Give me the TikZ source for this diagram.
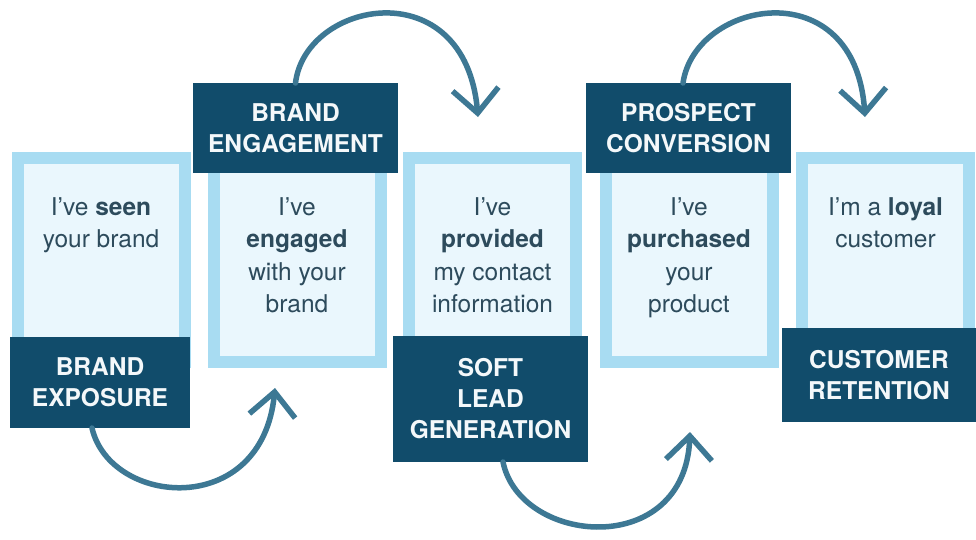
\documentclass[tikz,border=0pt]{standalone}
\usepackage{fontspec}
\setmainfont{TeX Gyre Heros}
\usetikzlibrary{arrows.meta}
\definecolor{navy}{HTML}{114C6B}
\definecolor{swoosh}{HTML}{3D7894}
\definecolor{rim}{HTML}{A8DCF2}
\definecolor{paper}{HTML}{EAF7FD}
\definecolor{ink}{HTML}{2D4B5C}
\definecolor{chalk}{HTML}{F4F8FA}

\begin{document}
\begin{tikzpicture}[x=1pt, y=-1pt,
  card/.style={draw=rim, line width=12pt, fill=paper, inner sep=0pt,
               outer sep=6pt, minimum width=167pt, minimum height=204pt},
  say/.style={anchor=north, inner sep=0pt, align=center, text=ink,
              font=\fontsize{24.5}{32.5}\selectfont},
  stage/.style={fill=navy, text=chalk, inner sep=0pt, outer sep=0pt,
                align=center, font=\fontsize{24.5}{31}\selectfont\bfseries},
  swoop/.style={draw=swoosh, line width=5.5pt, line cap=round,
                -{Straight Barb[length=24pt, width=46pt]}}
]
  \fill[white] (0,0) rectangle (976,539);
  \useasboundingbox (0,0) rectangle (976,539);

  % cards
  \node[card] (seen)      at (101,260)   {};
  \node[card] (engaged)   at (297,260)   {};
  \node[card] (provided)  at (492.5,260) {};
  \node[card] (purchased) at (689,260)   {};
  \node[card] (loyal)     at (885.5,260) {};

  \node[say] (seentxt)      at (101,197)   {I’ve \textbf{seen}\\your brand};
  \node[say] (engagedtxt)   at (297,197)   {I’ve\\\textbf{engaged}\\with your\\brand};
  \node[say] (providedtxt)  at (492.5,197) {I’ve\\\textbf{provided}\\my contact\\information};
  \node[say] (purchasedtxt) at (689,197)   {I’ve\\\textbf{purchased}\\your\\product};
  \node[say] (loyaltxt)     at (885.5,197) {I’m a \textbf{loyal}\\customer};

  % stage labels
  \node[stage, minimum width=180pt, minimum height=91pt]  (exposure)   at (100,382.5) {BRAND\\EXPOSURE};
  \node[stage, minimum width=205pt, minimum height=90pt]  (engagement) at (295.5,128) {BRAND\\ENGAGEMENT};
  \node[stage, minimum width=195pt, minimum height=126pt] (softlead)   at (490.5,399) {SOFT\\LEAD\\GENERATION};
  \node[stage, minimum width=205pt, minimum height=90pt]  (conversion) at (688.5,128) {PROSPECT\\CONVERSION};
  \node[stage, minimum width=194pt, minimum height=94pt]  (retention)  at (879,375)   {CUSTOMER\\RETENTION};

  % swoops between stages
  \draw[swoop] ([shift={(-8,0)}]exposure.south)
    .. controls +(18,78) and +(-13,132) .. ([shift={(-22,20)}]engaged.south);
  \draw[swoop] (engagement.north)
    .. controls +(10,-83) and +(-13,-147) .. ([shift={(-14.5,-35)}]provided.north);
  \draw[swoop] ([shift={(12.5,0)}]softlead.south)
    .. controls +(17,83) and +(-5,128) .. ([shift={(1,64)}]purchased.south);
  \draw[swoop] ([shift={(-5.5,0)}]conversion.north)
    .. controls +(12,-83) and +(-10,-147) .. ([shift={(-20.5,-35)}]loyal.north);
\end{tikzpicture}
\end{document}
